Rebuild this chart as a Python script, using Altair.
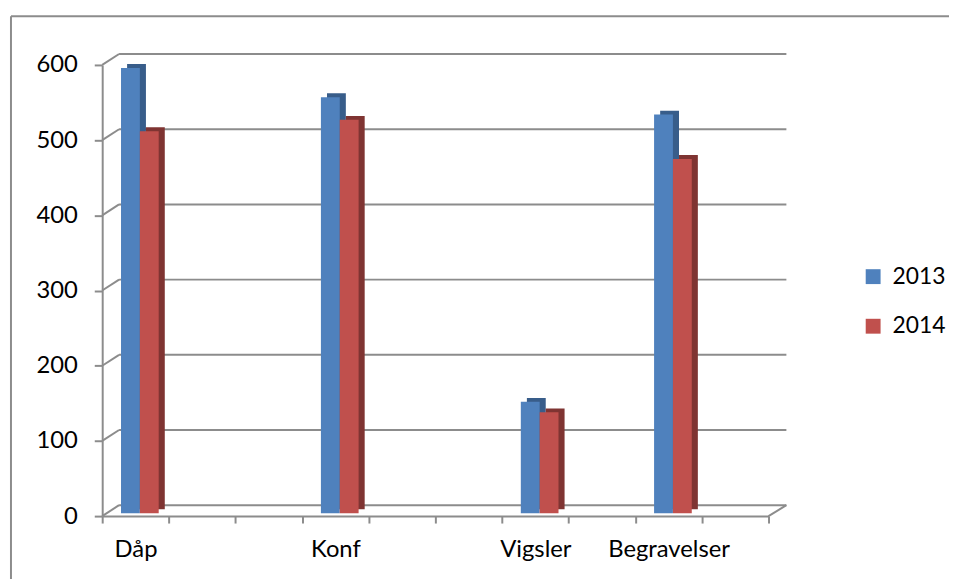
import json
import altair as alt
import pandas as pd

# ---- data ----
categories = ["Dåp", "", "", "Konf", "", "", "Vigsler", "", "Begravelser", ""]
bar_categories = ["Dåp", "Konf", "Vigsler", "Begravelser"]
years = ["2013", "2014"]
values_2013 = [592, 553, 148, 530]
values_2014 = [508, 523, 134, 471]
y_ticks = [0, 100, 200, 300, 400, 500, 600]

rows = []
for name, v13, v14 in zip(bar_categories, values_2013, values_2014):
    idx = categories.index(name)
    rows.append({"idx": idx, "year": "2013", "value": v13, "shade": "2013d"})
    rows.append({"idx": idx, "year": "2014", "value": v14, "shade": "2014d"})
bars = pd.DataFrame(rows)
ticks_df = pd.DataFrame({"v": y_ticks})
one = pd.DataFrame({"a": [0]})

W, H = 672, 455
GRAY = "#8c8c8c"
FONT = "Lato"
FS = 24
DX, DY = 17, -11  # back wall offset

yscale = alt.Scale(domain=[0, 600], nice=False, zero=True)
xscale = alt.Scale(domain=list(range(len(categories))), paddingInner=0, paddingOuter=0)
offscale_front = alt.Scale(domain=years, paddingInner=0, paddingOuter=0.768, align=0.65)
offscale_dark = alt.Scale(domain=years, paddingInner=0, paddingOuter=0.768, align=0.86)

label_expr = json.dumps(categories, ensure_ascii=False) + "[datum.value]"

y_axis = alt.Axis(values=y_ticks, tickSize=8, tickColor=GRAY, tickWidth=2,
                  domainColor=GRAY, domainWidth=2, grid=False, labelPadding=17,
                  labelFontSize=FS, labelFont=FONT, labelColor="#000000")
x_axis = alt.Axis(labelExpr=label_expr, labelAngle=0, tickBand="extent",
                  tickSize=7, tickColor=GRAY, tickWidth=2,
                  domainColor=GRAY, domainWidth=2, labelPadding=15,
                  labelFontSize=FS, labelFont=FONT, labelColor="#000000")

# outer border
border_left = alt.Chart(one).mark_rule(color=GRAY, strokeWidth=2).encode(
    x=alt.value(-92), y=alt.value(-49), y2=alt.value(H + 70))
border_top = alt.Chart(one).mark_rule(color=GRAY, strokeWidth=2).encode(
    x=alt.value(-92), x2=alt.value(W + 200), y=alt.value(-49))

# back wall gridlines
back_grid = alt.Chart(ticks_df).mark_rule(color=GRAY, strokeWidth=2, yOffset=DY).encode(
    x=alt.value(DX), x2=alt.value(W + 18),
    y=alt.Y("v:Q", scale=yscale, title=None, axis=y_axis))
diag = alt.Chart(ticks_df).mark_rule(color=GRAY, strokeWidth=2, y2Offset=DY).encode(
    x=alt.value(0), x2=alt.value(DX),
    y=alt.Y("v:Q", scale=yscale, title=None, axis=y_axis), y2="v:Q")
right_diag = alt.Chart(ticks_df[ticks_df.v == 0]).mark_rule(color=GRAY, strokeWidth=2, y2Offset=DY).encode(
    x=alt.value(W), x2=alt.value(W + 18),
    y=alt.Y("v:Q", scale=yscale, title=None, axis=y_axis), y2="v:Q")

# 3D shading
dark = alt.Chart(bars).mark_bar(yOffset=-7).encode(
    x=alt.X("idx:O", scale=xscale, title=None, axis=x_axis),
    xOffset=alt.XOffset("year:N", scale=offscale_dark),
    y=alt.Y("value:Q", scale=yscale, title=None, axis=y_axis),
    color=alt.Color("shade:N", scale=alt.Scale(domain=["2013d", "2014d"], range=["#385D8A", "#7F3432"]), legend=None),
)

front = alt.Chart(bars).mark_bar(yOffset=-3).encode(
    x=alt.X("idx:O", scale=xscale, title=None, axis=x_axis),
    xOffset=alt.XOffset("year:N", scale=offscale_front),
    y=alt.Y("value:Q", scale=yscale, title=None, axis=y_axis),
    color=alt.Color("year:N", scale=alt.Scale(domain=years, range=["#4F81BD", "#C0504D"]),
                    legend=alt.Legend(title=None, orient="none", legendX=766, legendY=202,
                                      symbolType="square", symbolSize=225, symbolStrokeWidth=0,
                                      labelFontSize=23, labelFont=FONT, labelColor="#000000",
                                      rowPadding=26, labelOffset=8, padding=0)),
)

chart = alt.layer(border_left, border_top, back_grid, diag, right_diag, dark, front).resolve_scale(
    color="independent", xOffset="independent"
).properties(
    width=W, height=H,
    autosize=alt.AutoSizeParams(type="none"),
    padding={"left": 95, "top": 55, "right": 182, "bottom": 61},
).configure_view(stroke=None)

chart.save("out.html", embed_options={"renderer": "svg", "actions": False})
